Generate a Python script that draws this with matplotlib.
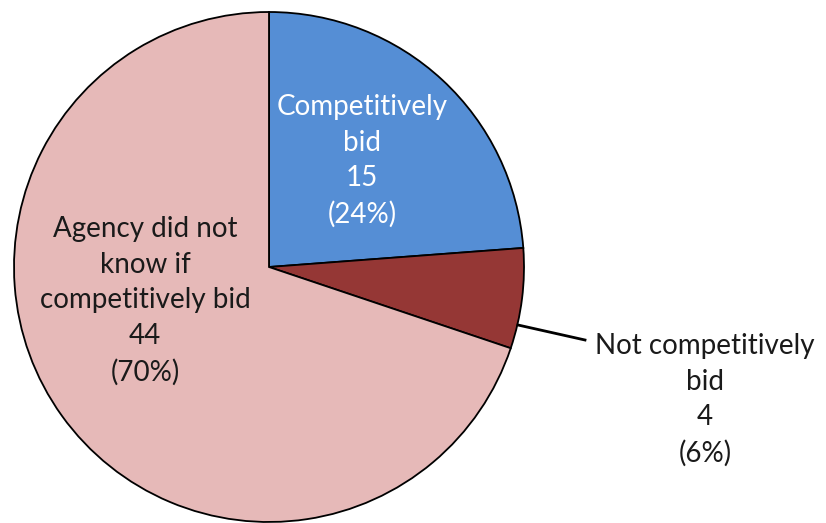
import numpy as np
import matplotlib.pyplot as plt

plt.rcParams['font.family'] = ['Lato', 'DejaVu Sans']

labels = ['Competitively\nbid', 'Not competitively\nbid', 'Agency did not\nknow if\ncompetitively bid']
counts = [15, 4, 44]
pcts = ['24%', '6%', '70%']
colors = ['#558ED5', '#953735', '#E6B9B8']
text_colors = ['white', '#1a1a1a', '#1a1a1a']

W, H = 826, 523
cx, cy, R = 269, 267, 255   # pie centre / radius in pixels


def px(x, y):
    # pixel position -> data coords (radius 1 = R pixels)
    return (x - cx) / R, (cy - y) / R


fig = plt.figure(figsize=(W / 100, H / 100), dpi=100)
ax = fig.add_axes([0, 0, 1, 1])
ax.pie(counts, colors=colors, startangle=90, counterclock=False, radius=1,
       wedgeprops={'linewidth': 1.3, 'edgecolor': 'black'})
ax.set_xlim(-cx / R, (W - cx) / R)
ax.set_ylim(-(H - cy) / R, cy / R)
ax.set_aspect('auto')
ax.axis('off')

label_pos = [(362, 161), (705, 400), (145, 301)]
for lab, n, p, (x, y), tc in zip(labels, counts, pcts, label_pos, text_colors):
    ax.text(*px(x, y), f'{lab}\n{n}\n({p})', ha='center', va='center',
            fontsize=20, color=tc, linespacing=1.45)

# leader line for the small slice
x0, y0 = px(518, 325)
x1, y1 = px(585, 340)
ax.plot([x0, x1], [y0, y1], color='black', lw=2)

fig.savefig('out.png', dpi=100)
